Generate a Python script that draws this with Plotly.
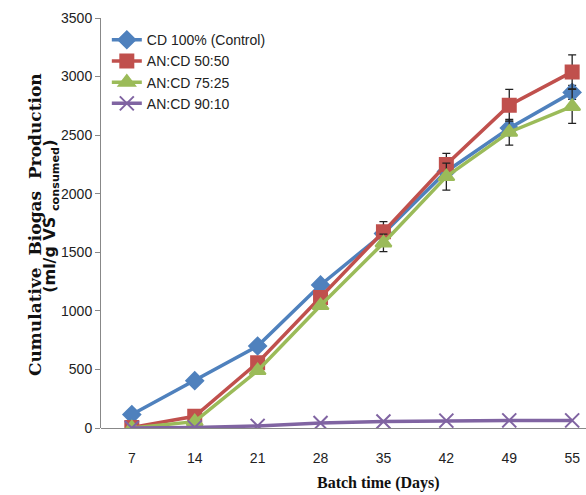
import plotly.graph_objects as go

days = ["7", "14", "21", "28", "35", "42", "49", "55"]
cd100 = [115, 404, 700, 1221, 1660, 2190, 2560, 2865]
cd100_err = [0, 0, 0, 0, 60, 60, 60, 60]
an5050 = [5, 100, 558, 1115, 1676, 2250, 2755, 3040]
an5050_err = [0, 0, 0, 0, 85, 95, 135, 145]
an7525 = [0, 54, 490, 1045, 1580, 2146, 2525, 2745]
an7525_err = [0, 0, 0, 0, 75, 115, 110, 145]
an9010 = [0, 5, 18, 42, 55, 63, 65, 65]

series = [
    ("CD 100% (Control)", cd100, cd100_err, "#4F81BD", "diamond", 13),
    ("AN:CD 50:50", an5050, an5050_err, "#C0504D", "square", 13),
    ("AN:CD 75:25", an7525, an7525_err, "#9BBB59", "triangle-up", 14),
    ("AN:CD 90:10", an9010, None, "#8064A2", "x-thin", 14),
]

xs = list(range(len(days)))
fig = go.Figure()
for name, vals, err, col, sym, sz in series:
    kw = {}
    if err is not None:
        kw["error_y"] = dict(type="data", array=err, visible=True,
                             color="#222222", thickness=1.3, width=4)
    fig.add_trace(go.Scatter(
        x=xs, y=vals, name=name, mode="lines+markers",
        line=dict(color=col, width=3.5),
        marker=dict(symbol=sym, size=sz, color=col,
                    line=dict(color=col, width=2)),
        **kw))

fig.update_layout(
    width=586, height=495,
    margin=dict(l=101, r=0, t=18, b=67),
    plot_bgcolor="white", paper_bgcolor="white",
    font=dict(family="Liberation Sans, sans-serif", size=14, color="#222222"),
    showlegend=True,
    legend=dict(x=0.012, y=0.985, xanchor="left", yanchor="top",
                bgcolor="rgba(0,0,0,0)", font=dict(size=14),
                tracegroupgap=0, itemwidth=30),
    xaxis=dict(range=[-0.49, 7.22], tickmode="array", tickvals=xs, ticktext=days,
               showgrid=False, zeroline=False, showline=False,
               ticks="outside", ticklen=17, tickcolor="rgba(0,0,0,0)"),
    yaxis=dict(range=[0, 3500], dtick=500, showgrid=False, zeroline=True,
               zerolinecolor="#888888", zerolinewidth=1,
               showline=True, linecolor="#888888", linewidth=1,
               ticks="outside", ticklen=5, tickcolor="#888888"),
    annotations=[
        dict(text="<b>Cumulative  Biogas  Production</b>",
             xref="paper", yref="paper", x=(35 - 101) / 485, y=0.495,
             xanchor="center", yanchor="middle", textangle=-90, showarrow=False,
             font=dict(family="DejaVu Serif, serif", size=17, color="#111111")),
        dict(text="<b>(ml/g VS <sub>consumed</sub>)</b>",
             xref="paper", yref="paper", x=(51 - 101) / 485, y=0.515,
             xanchor="center", yanchor="middle", textangle=-90, showarrow=False,
             font=dict(family="DejaVu Sans, sans-serif", size=16, color="#111111")),
        dict(text="<b>Batch time (Days)</b>",
             xref="paper", yref="paper", x=0.572, y=-0.135,
             xanchor="center", yanchor="middle", showarrow=False,
             font=dict(family="Liberation Serif, serif", size=16, color="#111111")),
    ],
)

fig.write_html("out.html")
